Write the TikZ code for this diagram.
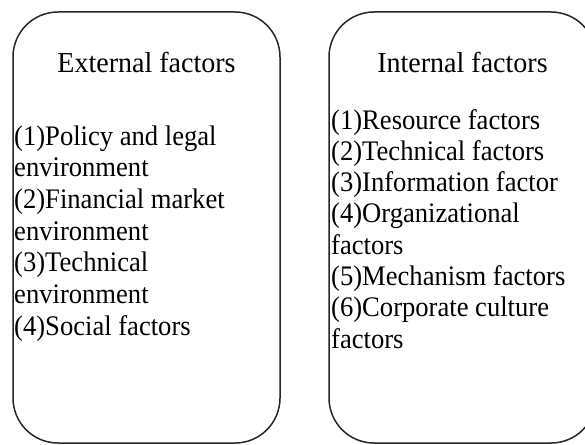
\documentclass[tikz,border=0pt]{standalone}
\usepackage{fontspec}
\setmainfont{Liberation Serif}
\newfontfamily\bodyfont[FakeStretch=0.94]{Liberation Serif}
\newfontfamily\headfont[FakeStretch=0.97]{Liberation Serif}
\begin{document}
\begin{tikzpicture}[x=1pt,y=-1pt,
  panel/.style={draw=black!85,line width=1.5pt,rounded corners=45pt},
  title/.style={anchor=base,inner sep=0pt,font=\headfont\fontsize{28.9}{32}\selectfont},
  item/.style={anchor=base west,inner sep=0pt,font=\bodyfont\fontsize{28.3}{31}\selectfont}]
\useasboundingbox (0,0) rectangle (585,444);
\clip (0,0) rectangle (585,444);
\node[panel,minimum width=267pt,minimum height=431pt] (ext) at (146.5,227.5) {};
\node[panel,minimum width=267pt,minimum height=431pt] (int) at (462.5,227.5) {};
\node[title] (extt) at (146.5,72) {External factors};
\node[title] (intt) at (462.5,72) {Internal factors};
\foreach \t [count=\i] in {(1)Policy and legal,environment,(2)Financial market,environment,(3)Technical,environment,(4)Social factors}
  \node[item] (l\i) at (14,{145+(\i-1)*31.7}) {\t};
\foreach \t [count=\i] in {(1)Resource factors,(2)Technical factors,(3)Information factor,(4)Organizational,factors,(5)Mechanism factors,(6)Corporate culture,factors}
  \node[item] (r\i) at (331,{129+(\i-1)*31.3}) {\t};
\end{tikzpicture}
\end{document}
